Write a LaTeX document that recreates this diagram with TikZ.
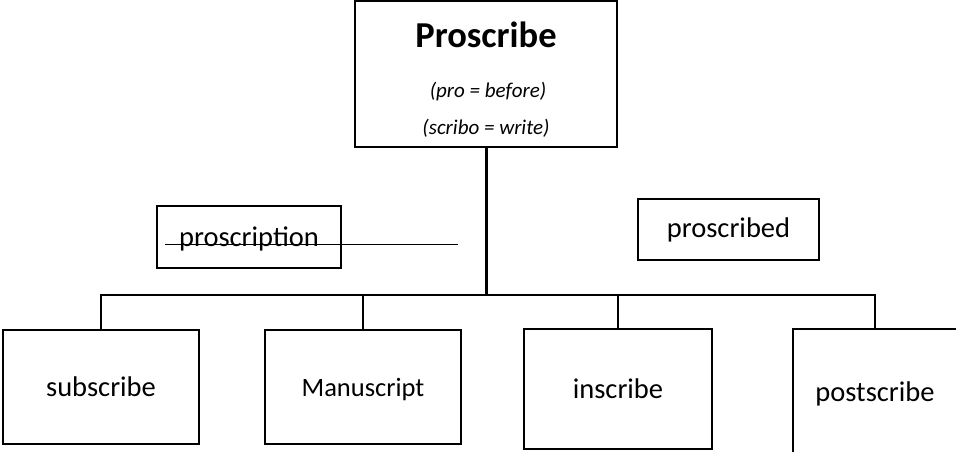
\documentclass[tikz,border=0pt]{standalone}
\usepackage{fontspec}
\setmainfont{Carlito}
\tikzset{
  wordbox/.style={draw, line width=1.8pt, inner sep=0pt, font=\fontsize{28.5}{34}\selectfont},
  bus/.style={line width=1.8pt},
}
\begin{document}
\begin{tikzpicture}[x=1pt,y=-1pt]
            \clip (0,0) rectangle (956,451);
            % root box
            \node[wordbox, minimum width=262pt, minimum height=146pt] (top) at (486,74) {};
            \node[font=\fontsize{36.5}{40}\selectfont\bfseries] (title) at (486,35) {Proscribe};
            \node[font=\fontsize{21}{24}\selectfont\itshape] (pro) at (488,92) {(pro = before)};
            \node[font=\fontsize{21}{24}\selectfont\itshape] (scribo) at (486,128) {(scribo = write)};
            % side words
            \node[wordbox, minimum width=184pt, minimum height=62pt, text depth=0pt] (proscription) at (249,237) {proscription};
            \node[wordbox, minimum width=181pt, minimum height=61pt] (proscribed) at (728.5,229.5) {proscribed};
            \coordinate (strike a) at (165,244);
            \coordinate (strike b) at (458,244);
            \draw[line width=0.9pt] (strike a) -- (strike b);
            % children
            \node[wordbox, minimum width=196pt, minimum height=114pt] (sub) at (101,387) {subscribe};
            \node[wordbox, minimum width=196pt, minimum height=114pt, text depth=0pt, font=\fontsize{26.5}{32}\selectfont] (man) at (363,387) {Manuscript};
            \node[wordbox, minimum width=188pt, minimum height=120pt] (ins) at (618,389) {inscribe};
            \node[wordbox, minimum width=164pt, minimum height=130pt] (post) at (875,394) {postscribe};
            % tree lines
            \coordinate (join) at (486,295);
            \draw[line width=3pt] (top.south) -- (join);
            \draw[bus] (sub.north) |- (join) -| (post.north);
            \draw[bus] (man.north) -- (man.north |- join);
            \draw[bus] (ins.north) -- (ins.north |- join);
        \end{tikzpicture}
\end{document}
